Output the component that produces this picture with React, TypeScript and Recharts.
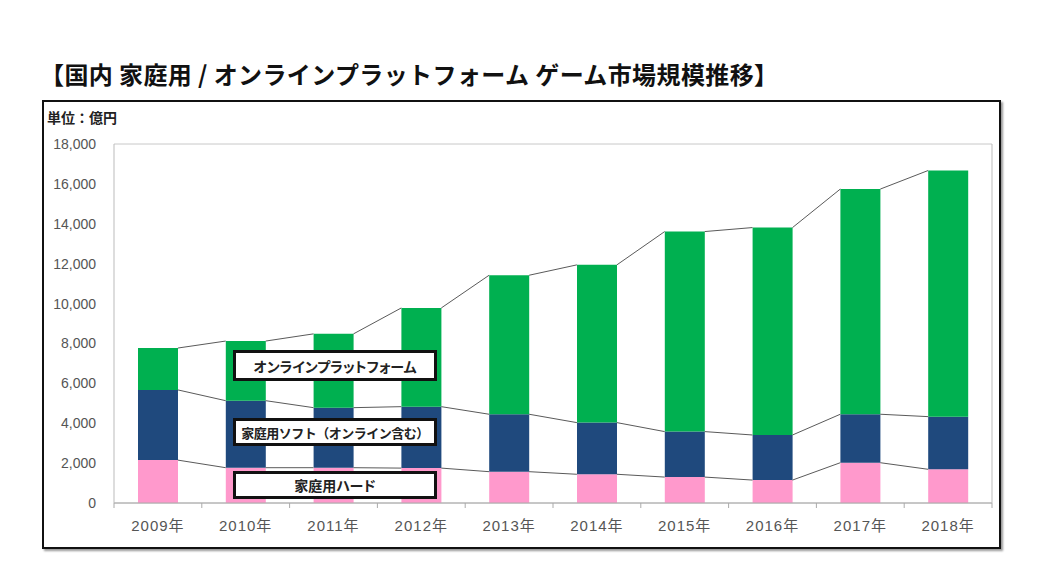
import React from "react";
import {
  BarChart,
  Bar,
  XAxis,
  YAxis,
  CartesianGrid,
  ReferenceLine,
} from "recharts";

const years = [
  "2009年", "2010年", "2011年", "2012年", "2013年",
  "2014年", "2015年", "2016年", "2017年", "2018年",
];
const hardware = [2150, 1770, 1770, 1750, 1570, 1440, 1300, 1150, 2020, 1690];
const software = [3520, 3360, 3010, 3080, 2880, 2590, 2280, 2260, 2430, 2640];
const online = [2100, 2990, 3700, 4950, 6970, 7910, 10030, 10400, 11290, 12340];
const yTicks = [0, 2000, 4000, 6000, 8000, 10000, 12000, 14000, 16000, 18000];
const seriesNames = ["家庭用ハード", "家庭用ソフト（オンライン含む）", "オンラインプラットフォーム"];

const COLORS = { hardware: "#ff99cc", software: "#1f497d", online: "#00b050" };
const BAR = 40;
const JP = "'Noto Sans CJK JP', 'Noto Sans', sans-serif";
const NUM = "'Liberation Sans', 'Noto Sans CJK JP', sans-serif";

const data = years.map((year, i) => ({
  year,
  hardware: hardware[i],
  software: software[i],
  online: online[i],
}));

// stacked boundaries for the series lines between bars
const levels = [
  hardware,
  hardware.map((h, i) => h + software[i]),
  hardware.map((h, i) => h + software[i] + online[i]),
];

const SeriesLine = (props: any) => {
  const { x1, y1, x2, y2 } = props;
  if ([x1, y1, x2, y2].some((v) => typeof v !== "number")) return null;
  return (
    <line
      x1={x1 + BAR / 2}
      y1={y1}
      x2={x2 - BAR / 2}
      y2={y2}
      stroke="#5a5a5a"
      strokeWidth={1}
    />
  );
};

const XTick = (props: any) => {
  const { x, y, payload, index } = props;
  const off = typeof payload?.offset === "number" && payload.offset > 0 ? payload.offset : 43.9;
  const axisY = y - 17;
  return (
    <g>
      <line x1={x - off} y1={axisY} x2={x - off} y2={axisY + 5} stroke="#aaa" />
      {index === years.length - 1 && (
        <line x1={x + off} y1={axisY} x2={x + off} y2={axisY + 5} stroke="#aaa" />
      )}
      <text
        x={x}
        y={y}
        dy="0.71em"
        textAnchor="middle"
        fill="#555"
        fontSize={15}
        fontFamily={NUM}
        letterSpacing={1}
      >
        {payload.value}
      </text>
    </g>
  );
};

const labelBox = (top: number, height: number, text: string, prop = true) => (
  <div
    key={text}
    style={{
      position: "absolute",
      left: 233,
      top,
      width: 204,
      height,
      boxSizing: "border-box",
      border: "3px solid #111",
      background: "#fff",
      display: "flex",
      alignItems: "center",
      justifyContent: "center",
      fontFamily: JP,
      fontWeight: 700,
      fontSize: prop ? 14 : 13,
      letterSpacing: prop ? 0 : -0.5,
      fontFeatureSettings: prop ? "'palt' 1" : "normal",
      color: "#222",
      whiteSpace: "nowrap",
    }}
  >
    {text}
  </div>
);

export default function App() {
  return (
    <div
      style={{
        position: "absolute",
        left: 0,
        top: 0,
        width: 1062,
        height: 578,
        background: "#fff",
        fontFamily: JP,
      }}
    >
      <div
        style={{
          position: "absolute",
          left: 40,
          top: 59,
          fontSize: 24,
          fontWeight: 700,
          letterSpacing: 0.4,
          lineHeight: "30px",
          color: "#111",
          whiteSpace: "nowrap",
        }}
      >
        【国内 家庭用 / オンラインプラットフォーム ゲーム市場規模推移】
      </div>

      <div
        style={{
          position: "absolute",
          left: 42,
          top: 100,
          width: 959,
          height: 449,
          boxSizing: "border-box",
          border: "2px solid #111",
          boxShadow: "2px 2px 2px #999",
        }}
      />

      <div
        style={{
          position: "absolute",
          left: 47,
          top: 107,
          fontSize: 14,
          fontWeight: 700,
          color: "#222",
        }}
      >
        単位：億円
      </div>

      <div style={{ position: "absolute", left: 42, top: 100 }}>
        <BarChart
          width={958}
          height={448}
          data={data}
          margin={{ top: 44, right: 7, left: 12, bottom: 15 }}
          barSize={BAR}
        >
          <CartesianGrid vertical={false} stroke="#c8c8c8" />
          <XAxis
            dataKey="year"
            height={30}
            tickLine={false}
            tickSize={0}
            tickMargin={17}
            axisLine={{ stroke: "#aaa" }}
            tick={<XTick />}
            interval={0}
          />
          <YAxis
            yAxisId="l"
            width={60}
            domain={[0, 18000]}
            ticks={yTicks}
            interval={0}
            tickLine={false}
            tickSize={0}
            tickMargin={18}
            axisLine={{ stroke: "#bbb" }}
            tickFormatter={(v: number) => v.toLocaleString("en-US")}
            tick={{ fill: "#555", fontSize: 14, fontFamily: NUM }}
          />
          <YAxis
            yAxisId="r"
            orientation="right"
            width={1}
            domain={[0, 18000]}
            ticks={yTicks}
            tick={false}
            tickLine={false}
            axisLine={{ stroke: "#bbb" }}
          />
          <Bar yAxisId="l" dataKey="hardware" name={seriesNames[0]} stackId="a" fill={COLORS.hardware} isAnimationActive={false} />
          <Bar yAxisId="l" dataKey="software" name={seriesNames[1]} stackId="a" fill={COLORS.software} isAnimationActive={false} />
          <Bar yAxisId="l" dataKey="online" name={seriesNames[2]} stackId="a" fill={COLORS.online} isAnimationActive={false} />
          {levels.map((lv, li) =>
            years.slice(0, -1).map((yr, i) => (
              <ReferenceLine
                key={`${li}-${i}`}
                yAxisId="l"
                segment={[
                  { x: yr, y: lv[i] },
                  { x: years[i + 1], y: lv[i + 1] },
                ]}
                shape={SeriesLine}
                ifOverflow="visible"
              />
            ))
          )}
        </BarChart>
      </div>

      {labelBox(350, 31, seriesNames[2])}
      {labelBox(418, 28, seriesNames[1], false)}
      {labelBox(471, 28, seriesNames[0])}
    </div>
  );
}
